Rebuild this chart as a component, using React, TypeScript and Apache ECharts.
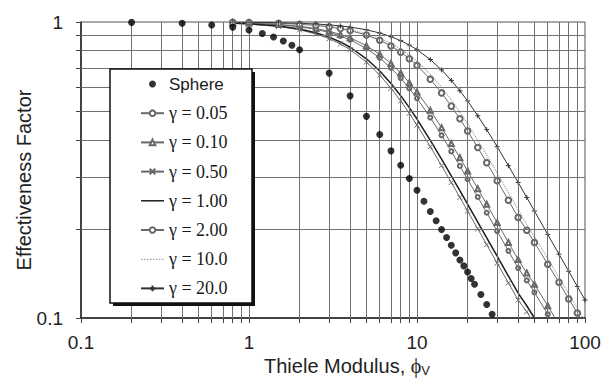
import React, { useEffect, useRef } from 'react';
import * as echarts from 'echarts';

// Thiele modulus values at which the gamma curves were read
const PHI = [0.8, 1, 1.5, 2, 2.5, 3, 3.5, 4, 5, 6, 7, 8, 9, 10, 12, 14, 16, 18, 20, 23, 26, 30, 35, 40, 45, 50, 60, 70, 80, 90, 100];

const ETA_005 = [0.994, 0.9905, 0.979, 0.9635, 0.944, 0.9217, 0.897, 0.8704, 0.8138, 0.7558, 0.6993, 0.6458, 0.5966, 0.5523, 0.4755, 0.4141, 0.3655, 0.3263, 0.2943, 0.2563, 0.2268, 0.1966, 0.1686, 0.1475, 0.134, 0.122, 0.103, 0.089];
const ETA_010 = [0.9946, 0.9917, 0.9815, 0.9678, 0.9505, 0.9305, 0.908, 0.884, 0.8321, 0.7779, 0.7241, 0.6724, 0.624, 0.5797, 0.5029, 0.4396, 0.3888, 0.3477, 0.3139, 0.2735, 0.2422, 0.21, 0.18, 0.1575, 0.142, 0.13, 0.11, 0.095, 0.084];
const ETA_050 = [0.99, 0.9845, 0.966, 0.9412, 0.9115, 0.8785, 0.8431, 0.8063, 0.7321, 0.6616, 0.5974, 0.5413, 0.4915, 0.4485, 0.3792, 0.3271, 0.287, 0.2554, 0.2299, 0.2, 0.1769, 0.1533, 0.1314, 0.115, 0.105, 0.095];
const ETA_100 = [0.991, 0.9861, 0.9693, 0.9467, 0.9197, 0.8891, 0.8562, 0.8216, 0.7511, 0.6829, 0.6199, 0.5638, 0.5137, 0.4701, 0.3985, 0.3442, 0.3023, 0.2691, 0.2424, 0.2108, 0.1865, 0.1617, 0.1386, 0.1213, 0.11, 0.1, 0.083];
const ETA_200 = [0.9972, 0.9957, 0.9903, 0.9829, 0.9737, 0.9625, 0.9498, 0.9356, 0.9034, 0.8679, 0.83, 0.791, 0.7519, 0.7135, 0.6411, 0.5761, 0.5197, 0.471, 0.4285, 0.3765, 0.3348, 0.2911, 0.2498, 0.2187, 0.198, 0.18, 0.152, 0.132, 0.116, 0.104, 0.094];
const ETA_1000 = [0.9975, 0.9962, 0.9914, 0.9849, 0.9766, 0.9665, 0.9552, 0.9424, 0.9132, 0.8807, 0.8458, 0.8095, 0.7727, 0.7361, 0.6659, 0.6019, 0.5459, 0.4962, 0.453, 0.3986, 0.355, 0.309, 0.2654, 0.2324, 0.2066, 0.188, 0.159, 0.137, 0.121, 0.108, 0.097];
const ETA_2000 = [0.9984, 0.9975, 0.9943, 0.99, 0.9845, 0.9779, 0.9701, 0.9615, 0.9412, 0.9179, 0.8922, 0.8648, 0.8358, 0.8063, 0.7469, 0.6891, 0.635, 0.5856, 0.5413, 0.482, 0.4328, 0.3792, 0.3271, 0.287, 0.2554, 0.2299, 0.1916, 0.1643, 0.1438, 0.1278, 0.115];

const SPHERE_PHI = [0.2, 0.4, 0.6, 0.8, 1, 1.2, 1.4, 1.6, 1.8, 2, 3, 4, 5, 6, 7, 8, 9, 10, 11, 12, 13, 14, 15, 16, 17, 18, 19, 20, 21, 22, 24, 26, 28];
const SPHERE_ETA = [0.997, 0.99, 0.977, 0.96, 0.939, 0.915, 0.89, 0.863, 0.834, 0.806, 0.672, 0.563, 0.48, 0.417, 0.367, 0.328, 0.296, 0.27, 0.248, 0.229, 0.213, 0.199, 0.187, 0.176, 0.166, 0.157, 0.15, 0.143, 0.136, 0.13, 0.12, 0.111, 0.103];

const SERIES_NAMES = ['Sphere', 'γ = 0.05', 'γ = 0.10', 'γ = 0.50', 'γ = 1.00', 'γ = 2.00', 'γ = 10.0', 'γ = 20.0'];

const X_GRID = [0.2, 0.3, 0.4, 0.5, 0.6, 0.7, 0.8, 0.9, 1, 2, 3, 4, 5, 6, 7, 8, 9, 10, 20, 30, 40, 50, 60, 70, 80, 90];
const Y_GRID = [0.2, 0.3, 0.4, 0.5, 0.6, 0.7, 0.8, 0.9];
const X_TICKS = [0.1, 0.2, 0.3, 0.4, 0.5, 0.6, 0.7, 0.8, 0.9, 1, 2, 3, 4, 5, 6, 7, 8, 9, 10, 20, 30, 40, 50, 60, 70, 80, 90, 100];
const Y_TICKS = [0.1, 0.2, 0.3, 0.4, 0.5, 0.6, 0.7, 0.8, 0.9, 1];
const X_LABELS = [0.1, 1, 10, 100];
const Y_LABELS = [0.1, 1];

const pair = (xs: number[], ys: number[]) => ys.map((y, i) => [xs[i], y]);
const fmt = (v: number) => String(Number(Number(v).toPrecision(3)));

// legend icons (23 x 7 box) for the marker-less lines
const SOLID_ICON = 'path://M0,0L0,0M23,7L23,7M0,2.75H23V4.25H0Z';
let dots = 'path://M0,0L0,0M23,7L23,7';
for (let i = 0; i < 8; i++) dots += `M${i * 3},3H${i * 3 + 1.5}V4.2H${i * 3}Z`;
const DOTTED_ICON = dots;

export default function App() {
  const ref = useRef<HTMLDivElement>(null);
  useEffect(() => {
    document.body.style.margin = '0';
    const chart = echarts.init(ref.current!, null, { renderer: 'svg' });
    const gray = '#686868';
    const dark = '#1e1e1e';
    const lineSeries = (name: string, ys: number[], extra: any) => ({
      type: 'line',
      name,
      data: pair(PHI, ys),
      z: 3,
      ...extra,
    });
    chart.setOption({
      animation: false,
      backgroundColor: '#ffffff',
      grid: {
        left: 81, right: 18, top: 22, bottom: 62,
        show: true, borderColor: '#555', borderWidth: 1,
        containLabel: false, outerBoundsMode: 'none',
      },
      xAxis: {
        type: 'log', logBase: 10, min: 0.1, max: 100,
        axisLine: { show: true, onZero: false, lineStyle: { color: '#222', width: 1.5 } },
        axisTick: { show: true, customValues: X_TICKS, length: 5, lineStyle: { color: '#444' } },
        axisLabel: { customValues: X_LABELS, formatter: fmt, fontSize: 19, fontFamily: 'Liberation Sans', color: '#222', margin: 15 },
        splitLine: { show: false },
      },
      yAxis: {
        type: 'log', logBase: 10, min: 0.1, max: 1,
        axisLine: { show: true, onZero: false, lineStyle: { color: '#222', width: 1.5 } },
        axisTick: { show: true, customValues: Y_TICKS, length: 5, lineStyle: { color: '#444' } },
        axisLabel: { customValues: Y_LABELS, formatter: fmt, fontSize: 19, fontFamily: 'Liberation Sans', color: '#222', margin: 18 },
        splitLine: { show: false },
      },
      legend: {
        orient: 'vertical', left: 140, top: 75, padding: 0, itemGap: 11.2,
        itemWidth: 23, itemHeight: 7, selectedMode: false, z: 20,
        textStyle: { fontFamily: 'Liberation Serif', fontSize: 18, color: '#1a1a1a', lineHeight: 18 },
        data: SERIES_NAMES.map((n, i) => {
          if (i === 0) return { name: n, textStyle: { fontFamily: 'Liberation Sans', fontSize: 17, lineHeight: 18 } };
          if (i === 4) return { name: n, icon: SOLID_ICON };
          if (i === 6) return { name: n, icon: DOTTED_ICON };
          return { name: n };
        }),
      },
      graphic: [
        { type: 'rect', z: 10, shape: { x: 113, y: 72, width: 142, height: 234 }, style: { fill: '#111' } },
        { type: 'rect', z: 11, shape: { x: 110, y: 69, width: 142, height: 234 }, style: { fill: '#fff', stroke: '#111', lineWidth: 1.5 } },
        {
          type: 'text', z: 11, x: 24, y: 180, rotation: Math.PI / 2,
          style: { text: 'Effectiveness Factor', font: '20px "Liberation Sans"', fill: '#222', align: 'center', verticalAlign: 'middle' },
        },
        {
          type: 'text', z: 11, x: 347, y: 366,
          style: {
            text: '{a|Thiele Modulus, }{p|ϕ}{s|V}',
            align: 'center', verticalAlign: 'middle', fill: '#222',
            rich: {
              a: { fontSize: 20, fontFamily: 'Liberation Sans', lineHeight: 22, fill: '#222' },
              p: { fontSize: 20, fontFamily: 'Liberation Serif', lineHeight: 22, fill: '#222' },
              s: { fontSize: 13, fontFamily: 'Liberation Sans', lineHeight: 10, verticalAlign: 'bottom', fill: '#222' },
            },
          },
        },
      ],
      series: [
        {
          type: 'line', name: 'gridlines', data: [], z: 1, silent: true,
          markLine: {
            silent: true, symbol: ['none', 'none'], label: { show: false }, animation: false,
            lineStyle: { color: '#707070', width: 1, type: 'solid' },
            emphasis: { disabled: true },
            data: [...X_GRID.map(v => ({ xAxis: v })), ...Y_GRID.map(v => ({ yAxis: v }))],
          },
        },
        {
          type: 'scatter', name: SERIES_NAMES[0], data: pair(SPHERE_PHI, SPHERE_ETA),
          symbol: 'circle', symbolSize: 7, itemStyle: { color: '#000' }, z: 5,
        },
        lineSeries(SERIES_NAMES[1], ETA_005, {
          symbol: 'emptyCircle', symbolSize: 4, lineStyle: { color: gray, width: 1 }, itemStyle: { color: gray },
        }),
        lineSeries(SERIES_NAMES[2], ETA_010, {
          symbol: 'emptyTriangle', symbolSize: 5, lineStyle: { color: gray, width: 1 }, itemStyle: { color: gray },
        }),
        lineSeries(SERIES_NAMES[3], ETA_050, {
          symbol: 'path://M0,0L8,8M8,0L0,8', symbolSize: 5, lineStyle: { color: gray, width: 1 },
          itemStyle: { color: gray, borderColor: gray, borderWidth: 1 },
        }),
        lineSeries(SERIES_NAMES[4], ETA_100, {
          symbol: 'none', lineStyle: { color: dark, width: 1.5 }, itemStyle: { color: dark },
        }),
        lineSeries(SERIES_NAMES[5], ETA_200, {
          symbol: 'emptyCircle', symbolSize: 5.5, lineStyle: { color: gray, width: 1 }, itemStyle: { color: gray },
        }),
        lineSeries(SERIES_NAMES[6], ETA_1000, {
          symbol: 'none', lineStyle: { color: '#a0a0a0', width: 1.2, type: 'dotted' }, itemStyle: { color: '#a0a0a0' },
        }),
        lineSeries(SERIES_NAMES[7], ETA_2000, {
          symbol: 'path://M4,0L4,8M0,4L8,4', symbolSize: 5, lineStyle: { color: '#333', width: 1 },
          itemStyle: { color: '#333', borderColor: '#333', borderWidth: 1 },
        }),
      ],
    });
    return () => chart.dispose();
  }, []);
  return <div ref={ref} style={{ width: 603, height: 380 }} />;
}
